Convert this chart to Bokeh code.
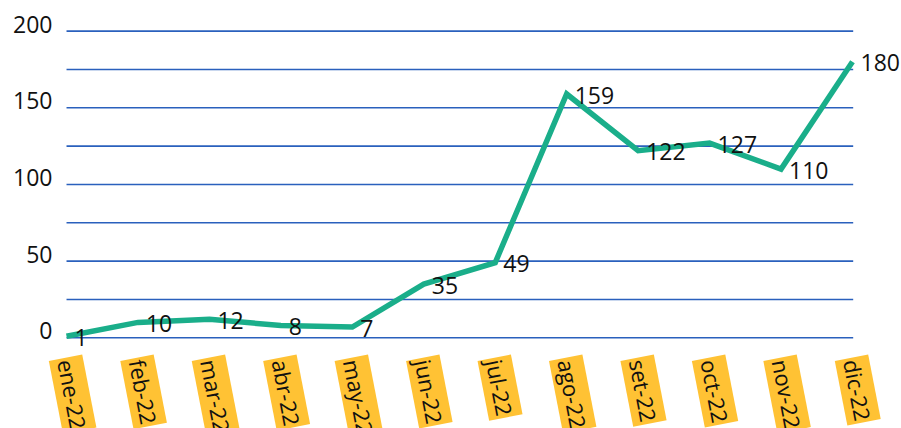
from bokeh.plotting import figure
from bokeh.models import Range1d, ColumnDataSource
from bokeh.embed import file_html
from bokeh.resources import INLINE
from bokeh.core.properties import value

# ---- data ----
months = ["ene-22", "feb-22", "mar-22", "abr-22", "may-22", "jun-22",
          "jul-22", "ago-22", "set-22", "oct-22", "nov-22", "dic-22"]
values = [1, 10, 12, 8, 7, 35, 49, 159, 122, 127, 110, 180]
y_ticks = [0, 50, 100, 150, 200]
y_tick_labels = ["0", "50", "100", "150", "200"]
grid_levels = [0, 25, 50, 75, 100, 125, 150, 175, 200]

FONT = value("Open Sans")
LINE_COLOR = "#1aae8a"
GRID_COLOR = "#2a60bd"
LABEL_BG = "#ffc234"

idx = list(range(len(months)))

p = figure(width=901, height=428, output_backend="svg", toolbar_location=None,
           x_range=Range1d(-0.924, 11.686), y_range=Range1d(-59.2, 220.0),
           min_border=0)
p.min_border_left = 0
p.min_border_right = 0
p.min_border_top = 0
p.min_border_bottom = 0
p.axis.visible = False
p.xgrid.visible = False
p.ygrid.visible = False
p.outline_line_color = None
p.title.visible = False

# horizontal gridlines spanning first to last category
gsrc = ColumnDataSource(dict(x0=[idx[0]] * len(grid_levels), x1=[idx[-1] + 0.01] * len(grid_levels),
                             y=grid_levels))
p.segment(x0="x0", x1="x1", y0="y", y1="y", source=gsrc, line_color=GRID_COLOR, line_width=1.6)

# y tick labels (sit just above their gridline)
tsrc = ColumnDataSource(dict(x=[idx[0]] * len(y_ticks), y=y_ticks, t=y_tick_labels))
p.text(x="x", y="y", text="t", source=tsrc, x_offset=-14, y_offset=-7,
       text_align="right", text_baseline="middle", text_font=FONT,
       text_font_size="23px", text_color="#111111")

# line
src = ColumnDataSource(dict(x=idx, y=values, lab=[str(v) for v in values],
                            m=months, y0=[0] * len(idx)))
p.line(x="x", y="y", source=src, line_color=LINE_COLOR, line_width=5.5, line_join="miter")

# data labels
p.text(x="x", y="y", text="lab", source=src, x_offset=8, y_offset=1,
       text_align="left", text_baseline="middle", text_font=FONT,
       text_font_size="23px", text_color="#111111")

# month labels with yellow background, rotated
p.text(x="x", y="y0", text="m", source=src, x_offset=-1, y_offset=20,
       angle=-79, angle_units="deg", text_align="left", text_baseline="middle",
       text_font=FONT, text_font_size="22px", text_color="#111111",
       background_fill_color=LABEL_BG, padding=2)

open("out.html", "w").write(file_html(p, INLINE))
